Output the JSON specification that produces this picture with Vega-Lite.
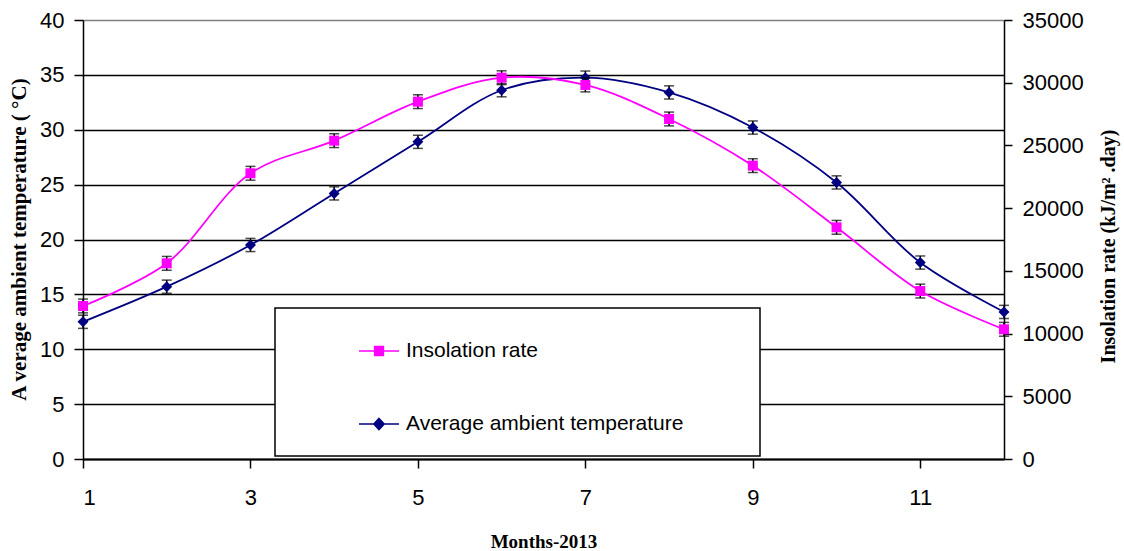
{
  "$schema": "https://vega.github.io/schema/vega-lite/v6.json",
  "width": 921,
  "height": 439,
  "autosize": {"type": "none"},
  "padding": {"left": 83, "top": 20, "right": 120, "bottom": 92},
  "background": "white",
  "config": {
    "view": {"stroke": null},
    "axis": {"labelFont": "Liberation Sans", "labelFontSize": 22, "labelColor": "black", "titleFont": "Liberation Serif", "titleFontWeight": "bold", "titleColor": "black", "domainColor": "black", "tickColor": "black"}
  },
  "data": {
    "values": [
      {"month": 1, "series": "Average ambient temperature", "value": 12.5, "lo": 11.9, "hi": 13.1},
      {"month": 2, "series": "Average ambient temperature", "value": 15.7, "lo": 15.1, "hi": 16.3},
      {"month": 3, "series": "Average ambient temperature", "value": 19.5, "lo": 18.9, "hi": 20.1},
      {"month": 4, "series": "Average ambient temperature", "value": 24.2, "lo": 23.6, "hi": 24.8},
      {"month": 5, "series": "Average ambient temperature", "value": 28.9, "lo": 28.3, "hi": 29.5},
      {"month": 6, "series": "Average ambient temperature", "value": 33.6, "lo": 33.0, "hi": 34.2},
      {"month": 7, "series": "Average ambient temperature", "value": 34.75, "lo": 34.15, "hi": 35.35},
      {"month": 8, "series": "Average ambient temperature", "value": 33.4, "lo": 32.8, "hi": 34.0},
      {"month": 9, "series": "Average ambient temperature", "value": 30.2, "lo": 29.6, "hi": 30.8},
      {"month": 10, "series": "Average ambient temperature", "value": 25.2, "lo": 24.6, "hi": 25.8},
      {"month": 11, "series": "Average ambient temperature", "value": 17.9, "lo": 17.3, "hi": 18.5},
      {"month": 12, "series": "Average ambient temperature", "value": 13.4, "lo": 12.8, "hi": 14.0},
      {"month": 1, "series": "Insolation rate", "value": 12200, "lo": 11650, "hi": 12750},
      {"month": 2, "series": "Insolation rate", "value": 15600, "lo": 15050, "hi": 16150},
      {"month": 3, "series": "Insolation rate", "value": 22780, "lo": 22230, "hi": 23330},
      {"month": 4, "series": "Insolation rate", "value": 25380, "lo": 24830, "hi": 25930},
      {"month": 5, "series": "Insolation rate", "value": 28490, "lo": 27940, "hi": 29040},
      {"month": 6, "series": "Insolation rate", "value": 30400, "lo": 29850, "hi": 30950},
      {"month": 7, "series": "Insolation rate", "value": 29820, "lo": 29270, "hi": 30370},
      {"month": 8, "series": "Insolation rate", "value": 27110, "lo": 26560, "hi": 27660},
      {"month": 9, "series": "Insolation rate", "value": 23390, "lo": 22840, "hi": 23940},
      {"month": 10, "series": "Insolation rate", "value": 18470, "lo": 17920, "hi": 19020},
      {"month": 11, "series": "Insolation rate", "value": 13390, "lo": 12840, "hi": 13940},
      {"month": 12, "series": "Insolation rate", "value": 10340, "lo": 9790, "hi": 10890}
    ]
  },
  "encoding": {
    "x": {
      "field": "month",
      "type": "quantitative",
      "scale": {"domain": [1, 12], "nice": false, "zero": false},
      "axis": {"values": [1, 3, 5, 7, 9, 11], "grid": false, "domainWidth": 2, "tickSize": 9, "tickWidth": 1.5, "labelPadding": 19, "title": "Months-2013", "titleFontSize": 19, "titlePadding": 24}
    }
  },
  "layer": [
    {
      "transform": [{"filter": "datum.series === 'Average ambient temperature'"}],
      "encoding": {
        "y": {
          "field": "value",
          "type": "quantitative",
          "scale": {"domain": [0, 40], "nice": false},
          "axis": {
            "orient": "left",
            "values": [0, 5, 10, 15, 20, 25, 30, 35, 40],
            "grid": true,
            "gridColor": {"condition": {"test": "datum.value === 40", "value": "#808080"}, "value": "black"},
            "gridWidth": 1.4,
            "gridOpacity": 1,
            "domainWidth": 1.5,
            "tickSize": 9,
            "tickWidth": 1.5,
            "labelPadding": 10,
            "title": "A verage ambient temperature ( °C)",
            "titleFontSize": 21,
            "titleX": -64,
            "titleY": 219,
            "titleBaseline": "middle",
            "titleAlign": "center",
            "titleAngle": 270
          }
        }
      },
      "layer": [
        {
          "mark": {"type": "line", "interpolate": "catmull-rom", "strokeWidth": 1.8},
          "encoding": {
            "color": {
              "field": "series",
              "type": "nominal",
              "scale": {"domain": ["Insolation rate", "Average ambient temperature"], "range": ["#FF00FF", "#000080"]},
              "legend": {
                "orient": "none",
                "legendX": 192,
                "legendY": 288,
                "title": "\u00a0",
                "titleOrient": "left",
                "titlePadding": 61,
                "padding": 22,
                "fillColor": "white",
                "strokeColor": "black",
                "symbolSize": 1600,
                "symbolStrokeWidth": 1.5,
                "rowPadding": 42,
                "labelOffset": 6,
                "labelFont": "Liberation Sans",
                "labelFontSize": 21,
                "labelColor": "black",
                "labelLimit": 0,
                "encode": {
                  "legend": {"update": {"strokeWidth": {"value": 1.5}}},
                  "symbols": {
                    "update": {
                      "shape": {"signal": "datum.value === 'Insolation rate' ? 'M17.8,0M-1,0L1,0M-0.22,-0.22L0.22,-0.22L0.22,0.22L-0.22,0.22Z' : 'M17.8,0M-1,0L1,0M0,-0.28L0.26,0L0,0.28L-0.26,0Z'"},
                      "fill": {"signal": "datum.value === 'Insolation rate' ? '#FF00FF' : '#000080'"},
                      "stroke": {"signal": "datum.value === 'Insolation rate' ? '#FF00FF' : '#000080'"},
                      "strokeWidth": {"value": 1.5},
                      "opacity": {"value": 1},
                      "fillOpacity": {"value": 1}
                    }
                  }
                }
              }
            }
          }
        },
        {
          "mark": {"type": "errorbar", "ticks": {"size": 10, "thickness": 1.5, "color": "black"}, "rule": {"strokeWidth": 1.5, "color": "black"}},
          "encoding": {
            "y": {"field": "lo", "type": "quantitative", "title": "A verage ambient temperature ( °C)"},
            "y2": {"field": "hi"}
          }
        },
        {
          "mark": {"type": "point", "shape": "diamond", "filled": true, "size": 120, "opacity": 1, "color": "#000080"}
        }
      ]
    },
    {
      "transform": [{"filter": "datum.series === 'Insolation rate'"}],
      "encoding": {
        "y": {
          "field": "value",
          "type": "quantitative",
          "scale": {"domain": [0, 35000], "nice": false},
          "axis": {
            "orient": "right",
            "values": [0, 5000, 10000, 15000, 20000, 25000, 30000, 35000],
            "format": "d",
            "grid": false,
            "domainWidth": 1.5,
            "tickSize": 8,
            "tickWidth": 1.5,
            "labelPadding": 10,
            "title": "Insolation rate (kJ/m² .day)",
            "titleFontSize": 20,
            "titleAngle": 270,
            "titleY": 226,
            "titlePadding": 35
          }
        }
      },
      "layer": [
        {
          "mark": {"type": "line", "interpolate": "catmull-rom", "strokeWidth": 1.8},
          "encoding": {
            "color": {"field": "series", "type": "nominal"}
          }
        },
        {
          "mark": {"type": "errorbar", "ticks": {"size": 10, "thickness": 1.5, "color": "black"}, "rule": {"strokeWidth": 1.5, "color": "black"}},
          "encoding": {
            "y": {"field": "lo", "type": "quantitative", "title": "Insolation rate (kJ/m² .day)"},
            "y2": {"field": "hi"}
          }
        },
        {
          "mark": {"type": "square", "size": 100, "opacity": 1, "color": "#FF00FF"}
        }
      ]
    }
  ],
  "resolve": {"scale": {"y": "independent"}}
}
